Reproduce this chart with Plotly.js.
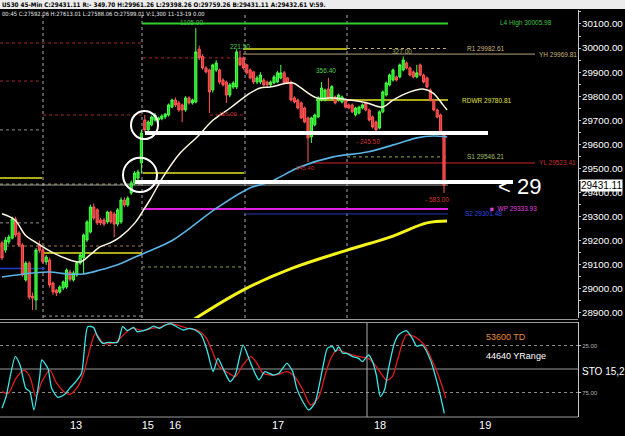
<!DOCTYPE html>
<html><head><meta charset="utf-8">
<script src="https://cdn.plot.ly/plotly-3.0.1.min.js"></script>
<style>html,body{margin:0;padding:0;background:#000;overflow:hidden}#chart{width:625px;height:436px}</style>
</head><body><div id="chart"></div>
<script>
// ---------- DATA ----------
const candleOpen = [29191,29161,29195,29211,29290,29232,29182,29037,29107,28970,28954,29185,29160,29112,29120,29024,28995,28987,29004,29008,
29070,29037,29058,29107,29130,29203,29236,29340,29328,29286,29286,29278,29319,29311,29269,29278,29369,29348,29398,29440,
29460,29523,29701,29660,29681,29701,29701,29706,29714,29722,29755,29784,29772,29764,29743,29793,29772,29776,29995,29965,
29917,29909,29826,29909,29909,29867,29859,29805,29838,29838,29959,29959,29930,29909,29901,29859,29859,29867,29859,29847,
29855,29859,29876,29897,29876,29859,29793,29784,29772,29751,29710,29631,29681,29714,29784,29784,29830,29790,29797,29784,
29776,29784,29764,29764,29722,29730,29751,29772,29743,29714,29693,29668,29735,29805,29847,29867,29880,29880,29909,29938,
29917,29901,29880,29930,29888,29876,29826,29784,29743,29722,29639];
const candleHigh = [29200,29215,29225,29300,29300,29240,29190,29115,29115,28985,29170,29200,29170,29140,29130,29030,29000,29015,29035,29085,
29080,29075,29115,29150,29230,29285,29350,29355,29335,29295,29295,29325,29325,29320,29335,29380,29380,29385,29450,29490,
29495,29660,29722,29700,29720,29730,29715,29725,29730,29770,29790,29795,29780,29770,29800,29800,29790,30083,30010,29975,
29925,29915,29935,29950,29915,29875,29865,29855,29862,29995,29990,29965,29935,29915,29905,29885,29900,29875,29865,29865,
29888,29905,29930,29905,29880,29865,29800,29790,29778,29757,29715,29715,29728,29800,29859,29832,29876,29846,29803,29811,
29803,29790,29770,29770,29757,29761,29770,29778,29749,29720,29699,29741,29824,29861,29894,29915,29886,29936,29965,29944,
29923,29907,29930,29936,29894,29882,29832,29790,29749,29728,29645];
const candleLow = [29120,29150,29185,29205,29215,29175,29050,29030,28955,28912,28912,29150,29105,29100,29005,28975,28970,28980,28995,29000,
29030,29030,29050,29100,29060,29195,29230,29285,29265,29265,29260,29270,29270,29215,29260,29270,29340,29340,29390,29430,
29450,29480,29650,29650,29675,29695,29690,29700,29705,29715,29750,29755,29735,29693,29735,29765,29765,29770,29950,29910,
29895,29730,29815,29900,29850,29840,29772,29795,29830,29830,29925,29910,29890,29870,29850,29850,29850,29840,29840,29840,
29850,29855,29870,29850,29850,29778,29770,29745,29705,29688,29527,29606,29675,29708,29778,29778,29787,29784,29766,29778,
29770,29749,29745,29729,29716,29724,29745,29737,29695,29666,29650,29662,29729,29799,29841,29861,29861,29874,29903,29911,
29882,29874,29874,29882,29853,29832,29778,29737,29708,29641,29398];
const candleClose = [29128,29203,29215,29290,29224,29182,29058,29107,28966,28962,29161,29160,29112,29132,29016,28987,28983,29008,29029,29078,
29040,29066,29107,29141,29224,29278,29340,29294,29274,29274,29269,29319,29278,29269,29328,29369,29348,29377,29440,29481,
29485,29647,29660,29693,29714,29722,29710,29718,29726,29764,29784,29764,29743,29743,29793,29772,29784,29984,29960,29917,
29901,29818,29930,29938,29859,29847,29805,29847,29855,29984,29930,29917,29897,29876,29859,29876,29888,29847,29847,29859,
29880,29897,29897,29855,29855,29784,29776,29751,29710,29693,29627,29710,29722,29793,29834,29826,29793,29840,29772,29805,
29797,29755,29751,29735,29751,29755,29764,29743,29701,29672,29660,29735,29818,29855,29888,29909,29867,29930,29950,29917,
29888,29880,29897,29888,29859,29838,29784,29743,29714,29647,29431];

// moving averages (bar index, price)
const maWhiteX = [0,3.8,6.8,9.7,14.1,18.5,22.9,25.9,28.8,31.8,34.7,39.1,42,43.5,47.4,52.4,57.4,62.1,67.1,72.1,75.9,78.8,85.6,87.6,92.6,97.4,102.4,107.4,112,115,120,123.8,126.8,129.7,130.9];
const maWhiteY = [29312,29286,29224,29195,29157,29128,29112,29141,29174,29191,29215,29274,29336,29369,29465,29564,29631,29701,29751,29805,29834,29838,29855,29838,29793,29793,29784,29772,29755,29784,29818,29830,29813,29764,29743];
const maBlueX = [0,9.1,14.1,19.1,23.8,28.8,33.8,38.5,42.6,50.3,63.2,72.9,78.8,87.6,97.4,107.4,117,122,126.8,130.9];
const maBlueY = [29049,29066,29070,29062,29062,29078,29099,29128,29153,29203,29336,29419,29444,29506,29548,29568,29606,29627,29635,29631];
const maYellowX = [56.2,70.9,85.6,101.5,114.1,125,130.9];
const maYellowY = [28871,28995,29087,29161,29215,29274,29282];

// stochastic (inverted scale as in the picture)
const stoMainX = [0,1.2,3.9,5.3,7.0,8.2,9.4,11.1,11.7,13.5,14.6,16.4,18.2,19.9,21.7,23.4,25.2,26.9,28.1,29.6,31.0,34.0,35.5,36.9,38.7,39.8,41.6,43.4,44.5,46.3,48.0,49.8,51.0,53.3,55.1,56.8,58.6,60.3,62.1,63.5,65.0,67.1,68.6,70.9,72.6,74.4,75.6,77.3,79.7,81.4,83.8,85.5,86.7,88.5,90.2,92.0,94.3,95.7,97.3,98.1,99.0,100.2,101.4,103.1,104.9,106.0,107.8,109.0,110.1,111.3,112.5,113.7,115.4,116.6,118.9,120.7,121.9,123.6,126.0,128.3,130.1];
const stoMainY = [91.8,79.4,36.9,45.7,70.6,74.1,93.6,58.2,40.4,49.3,70.6,80.1,77.7,70.6,63.5,54.6,5.0,5.7,15.6,22.7,21.6,21.6,5.0,9.2,5.7,10.3,9.2,6.7,4.3,6.7,3.2,2.1,4.3,8.5,6.7,8.5,13.8,29.8,52.8,38.7,49.3,63.5,56.4,24.5,38.7,54.6,61.7,52.8,56.4,54.6,44.0,52.8,70.6,84.8,93.6,86.5,49.3,28.0,26.2,31.6,26.2,33.3,33.3,36.9,38.7,42.2,35.1,42.2,56.4,79.4,72.3,49.3,22.7,13.8,9.2,17.4,25.5,24.5,40.4,68.8,97.2];
const stoSignalX = [0,1.8,4.1,6.4,8.2,10.0,11.7,14.1,15.8,18.2,19.9,22.3,24.0,25.8,27.5,29.9,33.4,35.2,38.1,41.6,43.9,46.3,49.2,51.6,54.5,57.4,59.8,61.5,63.9,66.8,68.6,70.9,73.2,75.0,76.8,79.1,81.4,83.8,86.1,88.5,90.8,93.2,94.9,96.7,98.4,101.4,104.9,107.8,110.1,113.1,114.8,116.6,118.9,121.3,124.2,126.0,128.3,130.6];
const stoSignalY = [74.1,75.9,59.9,51.1,58.2,79.4,63.5,51.1,63.5,74.1,76.9,68.8,54.6,29.8,12.1,22.7,21.6,15.6,6.7,9.2,6.7,5.7,2.1,3.2,6.7,8.5,15.6,28.0,47.5,54.6,58.2,45.7,36.9,44.0,54.6,56.4,55.7,52.8,58.2,72.3,88.3,79.4,58.2,38.7,29.8,33.3,36.9,38.7,47.5,61.7,58.2,36.9,13.8,15.6,24.5,36.9,56.4,81.2];

// price levels drawn on the chart
const pivotNames  = ['L4','R1','YH','RDWR','S1','YL','WP','S2'];
const pivotPrices = [30102, 29998, 29975, 29784, 29548, 29523, 29332, 29311];
const pivotLabels = ['L4 High 30005.98','R1 29982.61','YH 29969.81','RDWR 29780.81','S1 29546.21','YL 29523.41','\u25A0  WP 29333.93','S2 29301.48'];
const drawnLevels = [29647, 29444];          // white hand-drawn lines
const dayPivotYellow = [29460, 29149, 29481, 29996];
const redDotLevels = [30021, 29863, 29722, 29959, 29722];
const otherDotLevels = [29178, 29091, 29435, 29660, 29274, 28887];
const lastPrice = 29431.11;
const dateLabels = ['13','15','16','17','18','19'];
const dateBarPos = [21.8, 42.9, 50.9, 81.2, 111.2, 142.1];
const priceTicks = [28900,29000,29100,29200,29300,29400,29500,29600,29700,29800,29900,30000,30100];

// ---------- LAYOUT HELPERS ----------
const W = 625, H = 436;
const bx = p => (p - 2) / 3.4;            // pixel -> bar index
const fy = p => 1 - p / H;                // pixel -> paper y
const fx = p => p / W;                    // pixel -> paper x
const mainTop = 10, mainBot = 318, stoTop = 322, stoBot = 417, axX = 578;

const idx = candleOpen.map((_, i) => i);
const traces = [
  {type:'candlestick', x: idx, open: candleOpen, high: candleHigh, low: candleLow, close: candleClose,
   xaxis:'x', yaxis:'y', whiskerwidth:0,
   increasing:{line:{color:'#4cff4c', width:1}, fillcolor:'#1edc1e'},
   decreasing:{line:{color:'#ff5a5a', width:1}, fillcolor:'#e63434'}, hoverinfo:'skip'},
  {type:'scatter', mode:'lines', x: maYellowX, y: maYellowY, line:{color:'#f4f41c', width:3, shape:'spline'}, xaxis:'x', yaxis:'y', hoverinfo:'skip'},
  {type:'scatter', mode:'lines', x: maBlueX, y: maBlueY, line:{color:'#5ab4e6', width:1.6, shape:'spline'}, xaxis:'x', yaxis:'y', hoverinfo:'skip'},
  {type:'scatter', mode:'lines', x: maWhiteX, y: maWhiteY, line:{color:'#fff8e0', width:1.5, shape:'spline'}, xaxis:'x', yaxis:'y', hoverinfo:'skip'},
  {type:'scatter', mode:'lines', x: stoSignalX, y: stoSignalY, line:{color:'#e01e1e', width:1.3, shape:'spline', smoothing:0.8}, xaxis:'x2', yaxis:'y2', hoverinfo:'skip'},
  {type:'scatter', mode:'lines', x: stoMainX, y: stoMainY, line:{color:'#3ce6e6', width:1.3, shape:'spline', smoothing:0.6}, xaxis:'x2', yaxis:'y2', hoverinfo:'skip'}
];

const shapes = [];
const hl = (price, p0, p1, color, width, dash) => shapes.push({type:'line', xref:'x', yref:'y', x0:bx(p0), x1:bx(p1), y0:price, y1:price, line:{color, width, dash: dash||'solid'}, layer:'below'});
const hlTop = (price, p0, p1, color, width, dash) => shapes.push({type:'line', xref:'x', yref:'y', x0:bx(p0), x1:bx(p1), y0:price, y1:price, line:{color, width, dash: dash||'solid'}, layer:'above'});

// header bar
shapes.push({type:'rect', xref:'paper', yref:'paper', x0:0, x1:1, y0:fy(9), y1:1, fillcolor:'#ececec', line:{width:0}, layer:'below'});
// vertical dotted separators in main panel
[43,142,245,347].forEach(p => shapes.push({type:'line', xref:'x', yref:'paper', x0:bx(p), x1:bx(p), y0:fy(mainBot), y1:fy(mainTop+3), line:{color:'#a8a8a8', width:1, dash:'dot'}, layer:'below'}));
// dotted background levels
const rd = '#a02828';
hl(redDotLevels[0], 0, 143, rd, 1, 'dot');
hl(redDotLevels[1], 0, 42, rd, 1, 'dot');
hl(redDotLevels[2], 43, 143, rd, 1, 'dot');
hl(redDotLevels[3], 143, 243, rd, 1, 'dot');
hl(redDotLevels[4], 210, 245, rd, 1, 'dot');
hl(otherDotLevels[0], 0, 142, '#a87444', 1, 'dot');
hl(otherDotLevels[1], 142, 245, '#80a040', 1, 'dot');
hl(otherDotLevels[2], 0, 142, '#b8a860', 1, 'dot');
hl(otherDotLevels[3], 0, 42, '#909090', 1, 'dot');
hl(otherDotLevels[4], 0, 42, '#909090', 1, 'dot');
hl(otherDotLevels[5], 43, 142, '#a0a0a0', 1, 'dot');
hl(29085, 0, 45, '#1c3cc8', 1.5);
// day pivot (yellow step)
hl(dayPivotYellow[0], 0, 42, '#e6e620', 1.5);
hl(dayPivotYellow[1], 43, 142, '#e6e620', 1.5);
hl(dayPivotYellow[2], 143, 244, '#e6e620', 1.5);
hl(dayPivotYellow[3], 243, 347, '#e6e620', 1.5);
// pivots
const pivotSpec = {
  L4:  [142, 448, '#33cc33', 2, 'solid', 498, '#40c040'],
  R1:  [347, 448, '#c8b478', 1, 'dot', 465, '#c8b478'],
  YH:  [243, 535, '#b4a47a', 1, 'solid', 537, '#c8b478'],
  RDWR:[316, 448, '#e6e61e', 1.5, 'solid', 460, '#e0e040'],
  S1:  [347, 448, '#8cb050', 1, 'dot', 465, '#a0c060'],
  YL:  [313, 535, '#8c1a1a', 1.5, 'solid', 537, '#c83030'],
  WP:  [143, 448, '#e020e0', 2, 'solid', 488, '#e040e0'],
  S2:  [245, 448, '#2434b8', 1, 'solid', 463, '#3048e0']
};
pivotNames.forEach((n, i) => { const s = pivotSpec[n]; hl(pivotPrices[i], s[0], s[1], s[2], s[3], s[4]); });
// last price line
hl(lastPrice, 0, 448, '#9a9a9a', 1);
// hand drawn white lines and circles
hlTop(drawnLevels[0], 145, 488, '#ffffff', 4);
hlTop(drawnLevels[1], 135, 513, '#ffffff', 4);
shapes.push({type:'circle', xref:'x', yref:'y', x0:bx(131), x1:bx(158), y0:29622, y1:29739, line:{color:'#ffffff', width:2}, layer:'above'});
shapes.push({type:'circle', xref:'x', yref:'y', x0:bx(123), x1:bx(157), y0:29402, y1:29544, line:{color:'#ffffff', width:2}, layer:'above'});
// panel frame lines
[319.5, 322.5].forEach(p => shapes.push({type:'line', xref:'paper', yref:'paper', x0:0, x1:fx(axX), y0:fy(p), y1:fy(p), line:{color:'#9a9a9a', width:1}}));
shapes.push({type:'line', xref:'paper', yref:'paper', x0:0, x1:fx(axX), y0:fy(stoBot), y1:fy(stoBot), line:{color:'#9a9a9a', width:1}});
// stochastic reference lines
shapes.push({type:'line', xref:'paper', yref:'y2', x0:0, x1:fx(axX), y0:25, y1:25, line:{color:'#8a8a8a', width:1, dash:'dot'}, layer:'below'});
shapes.push({type:'line', xref:'paper', yref:'y2', x0:0, x1:fx(axX), y0:75, y1:75, line:{color:'#8a8a8a', width:1, dash:'dot'}, layer:'below'});
shapes.push({type:'line', xref:'paper', yref:'y2', x0:0, x1:fx(axX), y0:50, y1:50, line:{color:'#9a9a9a', width:1}, layer:'below'});
shapes.push({type:'line', xref:'x2', yref:'paper', x0:bx(367), x1:bx(367), y0:fy(stoBot), y1:fy(stoTop), line:{color:'#b0b0b0', width:1}, layer:'below'});

// ---------- ANNOTATIONS ----------
const F = 'Liberation Sans, Arial, sans-serif';
const FN = 'Liberation Sans Narrow, DejaVu Sans Condensed, Arial Narrow, sans-serif';
const ann = [];
const txt = (text, px, py, color, size, family, extra) => ann.push(Object.assign({text, xref:'paper', yref:'paper', x:fx(px), y:fy(py), xanchor:'left', yanchor:'middle', showarrow:false, font:{color, size, family: family||F}}, extra||{}));
const ptxt = (text, px, price, color, size) => ann.push({text, xref:'paper', yref:'y', x:fx(px), y:price, xanchor:'left', yanchor:'middle', showarrow:false, font:{color, size, family:F}});

txt('<b>US30 45-Min C:29431.11 R:- 349.70 H:29961.26 L:29398.26 O:29759.26 B:29431.11 A:29432.61 V:59.</b>', 0, 4.5, '#000000', 6.3, FN);
txt('00:45 C:27592.06 H:27613.01 L:27588.06 O:27599.01 V:1,300 11-13-19 0.00', 0, 14.5, '#e8e8e8', 5.8, FN);
pivotNames.forEach((n, i) => ptxt(pivotLabels[i], pivotSpec[n][5], pivotPrices[i], pivotSpec[n][6], 6.5));
txt('1105.00', 178, 22, '#40c040', 6.5);
txt('221.50', 228, 47, '#50d050', 6.5);
txt('327.00', 390, 51, '#a8b060', 6.5);
txt('356.40', 314, 70, '#50d050', 6.5);
txt('- 116.00', 213, 114, '#c83030', 6);
txt('- 245.50', 354, 141, '#d03030', 6.5);
txt('- 145.40', 290, 168, '#c83030', 6);
txt('- 583.00', 423, 199, '#d03030', 6.5);
txt('< 29', 496, 187, '#ffffff', 22);
ann.push({text:'29431.11', xref:'paper', yref:'y', x:fx(580), y:lastPrice, xanchor:'left', yanchor:'middle', showarrow:false, bgcolor:'#ffffff', borderpad:0, font:{color:'#000000', size:10, family:F}});
txt('53600 TD', 484, 337, '#e48a3c', 9);
txt('44640 YRange', 484, 356, '#ffffff', 9);
txt('STO 15,2', 580, 371, '#ffffff', 10);

const layout = {
  width: W, height: H, margin:{l:0, r:0, t:0, b:0},
  paper_bgcolor:'#000000', plot_bgcolor:'#000000', showlegend:false, boxgap:0.1,
  xaxis:{domain:[0, fx(axX)], range:[bx(0), bx(axX)], anchor:'y', showgrid:false, zeroline:false, showticklabels:false, ticks:'', rangeslider:{visible:false}, showline:false},
  yaxis:{domain:[fy(mainBot), fy(mainTop)], range:[28879, 30158], anchor:'x', side:'right', showgrid:false, zeroline:false,
         tickvals: priceTicks, ticktext: priceTicks.map(v => v.toFixed(2)), tickfont:{color:'#ffffff', size:9.8, family:F},
         ticks:'outside', ticklen:2, tickcolor:'#c8c8c8', showline:true, linecolor:'#c8c8c8', linewidth:1, ticklabelstandoff:-1,
         minor:{tickvals:[28950,29050,29150,29250,29350,29450,29550,29650,29750,29850,29950,30050,30150], ticks:'outside', ticklen:2, tickcolor:'#c8c8c8'}},
  xaxis2:{domain:[0, fx(axX)], range:[bx(0), bx(axX)], anchor:'y2', showgrid:false, zeroline:false,
          tickvals: dateBarPos, ticktext: dateLabels, tickfont:{color:'#ffffff', size:11, family:F}, ticks:'', showline:false},
  yaxis2:{domain:[fy(stoBot), fy(stoTop)], range:[101.06, 0], anchor:'x2', side:'right', showgrid:false, zeroline:false,
          tickvals:[25, 75], ticktext:['25.00','75.00'], tickfont:{color:'#b0b0b0', size:6, family:F}, ticks:'outside', ticklen:2, tickcolor:'#c8c8c8',
          showline:true, linecolor:'#c8c8c8', linewidth:1},
  shapes, annotations: ann
};
Plotly.newPlot('chart', traces, layout, {staticPlot:true, displayModeBar:false});
</script></body></html>
